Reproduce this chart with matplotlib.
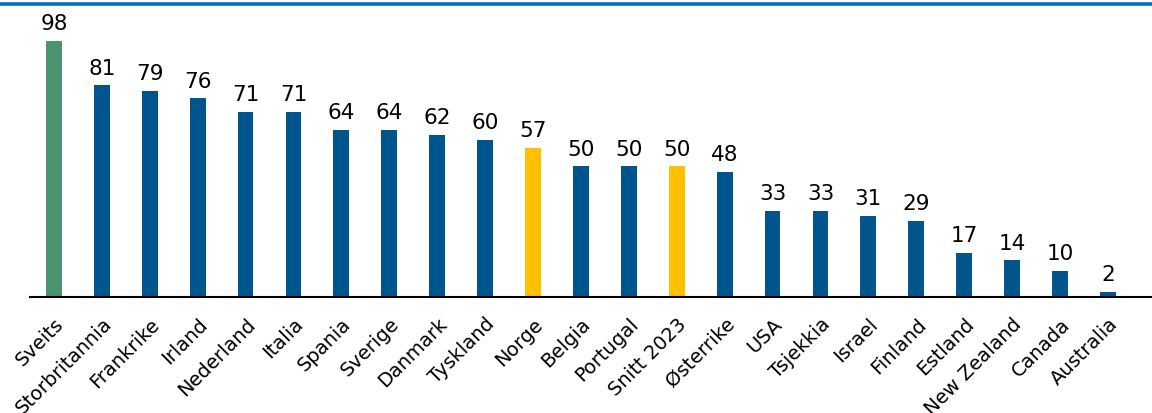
import matplotlib
matplotlib.use("Agg")
import matplotlib.pyplot as plt
from matplotlib.lines import Line2D

# Data
countries = ["Sveits", "Storbritannia", "Frankrike", "Irland", "Nederland", "Italia",
             "Spania", "Sverige", "Danmark", "Tyskland", "Norge", "Belgia", "Portugal",
             "Snitt 2023", "Østerrike", "USA", "Tsjekkia", "Israel", "Finland",
             "Estland", "New Zealand", "Canada", "Australia"]
values = [98, 81, 79, 76, 71, 71, 64, 64, 62, 60, 57, 50, 50, 50, 48, 33, 33, 31, 29,
          17, 14, 10, 2]

BLUE = "#00568C"
GREEN = "#4A9470"
YELLOW = "#FFC000"
highlight = {"Sveits": GREEN, "Norge": YELLOW, "Snitt 2023": YELLOW}
colors = [highlight.get(c, BLUE) for c in countries]

W, H = 1152, 414
plt.rcParams['font.family'] = ['DejaVu Sans']
fig = plt.figure(figsize=(W / 100, H / 100), dpi=100)

# top rule
fig.add_artist(Line2D([0, 1], [1 - 4.7 / H, 1 - 4.7 / H], transform=fig.transFigure,
                      color="#0070C0", linewidth=2.6))

bottom_px = 298
top_px = 12
ax = fig.add_axes([30 / W, (H - bottom_px) / H, (W - 30) / W, (bottom_px - top_px) / H])

x = list(range(len(countries)))
ax.bar(x, values, width=0.33, color=colors)
for xi, v in zip(x, values):
    ax.text(xi, v + 3, str(v), ha="center", va="bottom", fontsize=15.5)

ax.set_ylim(0, 109.5)
ax.set_xlim(-0.5, len(countries) - 0.08)
ax.set_xticks(x)
ax.set_xticklabels(countries, rotation=45, ha="right", rotation_mode="anchor", fontsize=14)
ax.tick_params(axis="x", length=0, pad=12)
ax.set_yticks([])
for s in ["top", "right", "left"]:
    ax.spines[s].set_visible(False)
ax.spines["bottom"].set_linewidth(1.5)

fig.savefig("out.png", dpi=100)
